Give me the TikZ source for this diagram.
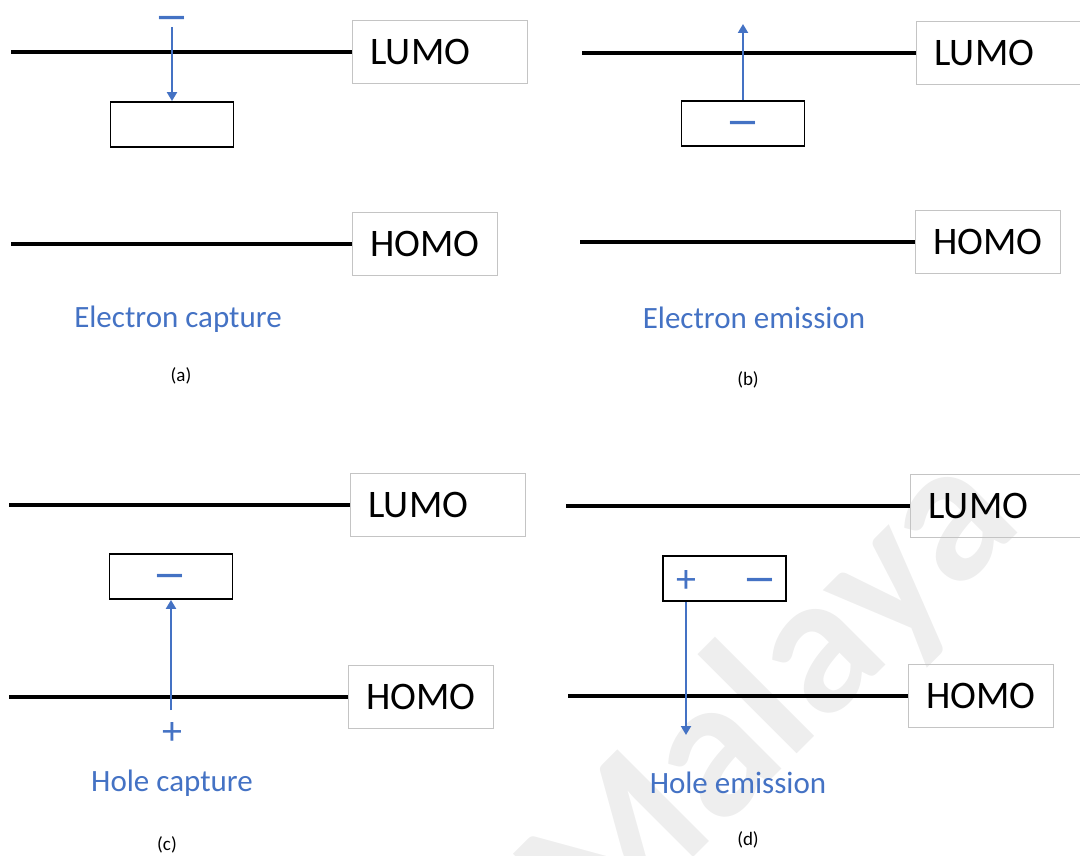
\documentclass[tikz,border=0pt]{standalone}
\usepackage{fontspec}
\setmainfont{Carlito}
\usetikzlibrary{positioning, calc, arrows.meta}
\definecolor{Charge}{HTML}{4472C4}
\definecolor{Frame}{HTML}{C4C4C4}
\definecolor{Mark}{HTML}{EEEEEE}
\newcommand{\widedash}{\scalebox{1.35}[1]{–}}
\tikzset{
    bandline/.style={line width=4pt, color=black},
    bandbox/.style={rectangle, draw=Frame, line width=0.8pt, minimum height=63pt, inner xsep=18pt, anchor=west, font=\fontsize{39}{42}\selectfont},
    lumobox/.style={bandbox, text width=139pt, align=left},
    trapbox/.style={rectangle, draw=black, line width=1.8pt, minimum width=123pt, minimum height=45pt},
    minussign/.style={text=Charge, font=\fontsize{52}{52}\selectfont, inner sep=0pt},
    plussign/.style={text=Charge, font=\fontsize{40}{40}\selectfont, inner sep=0pt},
    hop/.style={-{Triangle[length=9pt, width=10pt]}, line width=2pt, color=Charge},
    proclabel/.style={text=Charge, font=\fontsize{31}{33}\selectfont},
    panellabel/.style={font=\fontsize{19}{20}\selectfont},
}
\begin{document}
\begin{tikzpicture}[x=1pt, y=-1pt]
    \useasboundingbox (0,0) rectangle (1080,856);
    % Watermark
    \begin{scope}
        \clip (0,0) rectangle (1080,856);
        \node[rotate=45, text=Mark, font=\fontsize{200}{200}\selectfont\bfseries] (mark) at (772,702) {Malaya};
    \end{scope}

    % (a) Electron capture
    \node[lumobox] (lumoA) at (352,52) {LUMO};
    \node[bandbox] (homoA) at (352,244) {HOMO};
    \coordinate (lumoA0) at (11,52);
    \coordinate (homoA0) at (11,244);
    \draw[bandline] (lumoA0) -- (lumoA.west);
    \draw[bandline] (homoA0) -- (homoA.west);
    \node[trapbox] (trapA) at (172,124.5) {};
    \node[minussign] (minusA) at (172,24) {\widedash};
    \coordinate (dropA) at (172,27);
    \draw[hop] (dropA) -- (trapA.north);
    \node[proclabel] (procA) at (178,319) {Electron capture};
    \node[panellabel] (tagA) at (181,376) {(a)};

    % (b) Electron emission
    \node[lumobox] (lumoB) at (916,53) {LUMO};
    \node[bandbox] (homoB) at (915,242) {HOMO};
    \coordinate (lumoB0) at (582,53);
    \coordinate (homoB0) at (580,242);
    \draw[bandline] (lumoB0) -- (lumoB.west);
    \draw[bandline] (homoB0) -- (homoB.west);
    \node[trapbox] (trapB) at (743,123.5) {};
    \node[minussign] (minusB) at (743,129) {\widedash};
    \coordinate (exitB) at (743,24);
    \draw[hop] (trapB.north) -- (exitB);
    \node[proclabel] (procB) at (754,318) {Electron emission};
    \node[panellabel] (tagB) at (748,380) {(b)};

    % (c) Hole capture
    \node[lumobox] (lumoC) at (350,505) {LUMO};
    \node[bandbox] (homoC) at (348,697) {HOMO};
    \coordinate (lumoC0) at (9,505);
    \coordinate (homoC0) at (9,697);
    \draw[bandline] (lumoC0) -- (lumoC.west);
    \draw[bandline] (homoC0) -- (homoC.west);
    \node[trapbox] (trapC) at (171,576.5) {};
    \node[minussign] (minusC) at (170,582) {\widedash};
    \node[plussign] (plusC) at (172,734) {+};
    \coordinate (riseC) at (171,710);
    \draw[hop] (riseC) -- (trapC.south);
    \node[proclabel] (procC) at (172,783) {Hole capture};
    \node[panellabel] (tagC) at (167,845) {(c)};

    % (d) Hole emission
    \node[lumobox] (lumoD) at (910,506) {LUMO};
    \node[bandbox] (homoD) at (908,696) {HOMO};
    \coordinate (lumoD0) at (566,506);
    \coordinate (homoD0) at (568,696);
    \draw[bandline] (lumoD0) -- (lumoD.west);
    \draw[bandline] (homoD0) -- (homoD.west);
    \node[trapbox] (trapD) at (724.5,578.5) {};
    \node[plussign] (plusD) at (686,582) {+};
    \node[minussign] (minusD) at (760,586) {\widedash};
    \coordinate (fallD) at (686,735);
    \draw[hop] (trapD.south -| plusD) -- (fallD);
    \node[proclabel] (procD) at (738,783) {Hole emission};
    \node[panellabel] (tagD) at (748,840) {(d)};
\end{tikzpicture}
\end{document}
